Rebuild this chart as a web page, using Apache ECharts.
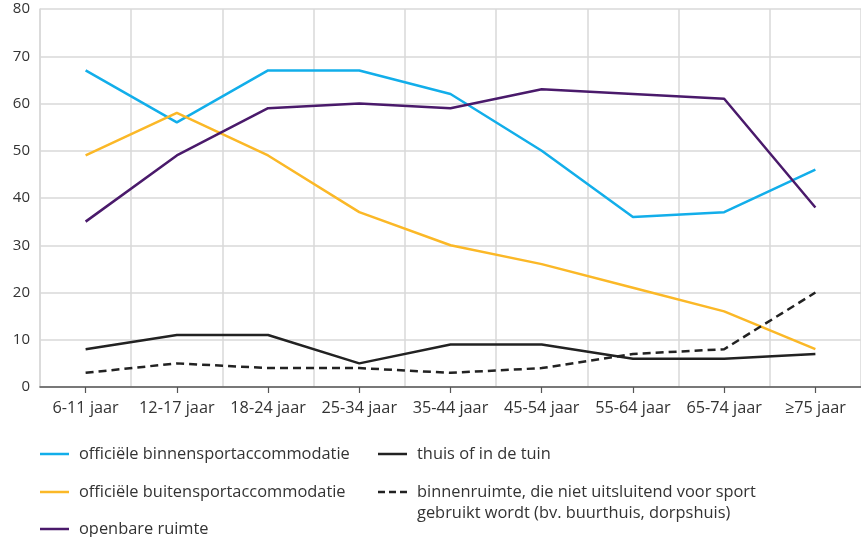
<!DOCTYPE html>
<html>
<head>
<meta charset="utf-8">
<script src="https://cdn.jsdelivr.net/npm/echarts@6/dist/echarts.min.js"></script>
<style>
  html, body { margin: 0; padding: 0; background: #fff; }
  #chart { width: 861px; height: 537px; }
</style>
</head>
<body>
<div id="chart"></div>
<script>
// Leeftijdsgroepen
const categories = ['6-11 jaar', '12-17 jaar', '18-24 jaar', '25-34 jaar', '35-44 jaar', '45-54 jaar', '55-64 jaar', '65-74 jaar', '≥75 jaar'];

// Percentages per locatie
const binnensport = [67, 56, 67, 67, 62, 50, 36, 37, 46];
const buitensport = [49, 58, 49, 37, 30, 26, 21, 16, 8];
const openbareRuimte = [35, 49, 59, 60, 59, 63, 62, 61, 38];
const thuisTuin = [8, 11, 11, 5, 9, 9, 6, 6, 7];
const binnenruimteOverig = [3, 5, 4, 4, 3, 4, 7, 8, 20];

const yTicks = { min: 0, max: 80, interval: 10 };

const names = {
  binnen: 'officiële binnensportaccommodatie',
  buiten: 'officiële buitensportaccommodatie',
  openbaar: 'openbare ruimte',
  thuis: 'thuis of in de tuin',
  overig: 'binnenruimte, die niet uitsluitend voor sport'
};

const FONT = '"Open Sans", sans-serif';
const TEXT = '#333333';
const LEGEND_FONT = 16.4;

// Legend glyphs: a plain stroke and a three-dash stroke
const ICON_SOLID = 'path://M0,0H29V2.5H0Z';
const ICON_DASHED = 'path://M0,0H7V2.5H0Z M11,0H18V2.5H11Z M22,0H29V2.5H22Z';

function lineSeries(name, data, color, type) {
  return {
    name: name,
    type: 'line',
    data: data,
    symbol: 'none',
    smooth: false,
    animation: false,
    lineStyle: { color: color, width: 2.5, type: type || 'solid' },
    itemStyle: { color: color }
  };
}

// One legend block per entry so each sits in its own row/column slot
function legendEntry(name, icon, left, top) {
  return {
    left: left,
    top: top,
    orient: 'horizontal',
    itemWidth: 29,
    itemHeight: 2.5,
    selectedMode: false,
    padding: 0,
    data: [{ name: name, icon: icon }],
    textStyle: { fontFamily: FONT, fontSize: LEGEND_FONT, color: TEXT, padding: [0, 0, 0, 5] }
  };
}

const chart = echarts.init(document.getElementById('chart'), null, { renderer: 'canvas' });
chart.setOption({
  backgroundColor: '#ffffff',
  animation: false,
  grid: { left: 40, top: 9, width: 831, height: 378, containLabel: false },
  xAxis: {
    type: 'category',
    data: categories,
    boundaryGap: true,
    axisLine: { show: true, lineStyle: { color: '#555555', width: 1.5 } },
    axisTick: { show: true, alignWithLabel: true, length: 6, lineStyle: { color: '#555555', width: 1.2 } },
    axisLabel: { fontFamily: FONT, fontSize: 16.3, color: TEXT, margin: 13, interval: 0 },
    splitLine: { show: true, lineStyle: { color: '#d9d9d9', width: 1.5 } }
  },
  yAxis: {
    type: 'value',
    min: yTicks.min,
    max: yTicks.max,
    interval: yTicks.interval,
    axisLine: { show: true, lineStyle: { color: '#d9d9d9', width: 1.5 } },
    axisTick: { show: false },
    axisLabel: { fontFamily: FONT, fontSize: 15, color: TEXT, margin: 10 },
    splitLine: { show: true, lineStyle: { color: '#d9d9d9', width: 1.5 } }
  },
  legend: [
    legendEntry(names.binnen, ICON_SOLID, 40, 446),
    legendEntry(names.buiten, ICON_SOLID, 40, 484),
    legendEntry(names.openbaar, ICON_SOLID, 40, 521),
    legendEntry(names.thuis, ICON_SOLID, 378, 446),
    legendEntry(names.overig, ICON_DASHED, 378, 484)
  ],
  graphic: [{
    type: 'text',
    left: 417,
    top: 505,
    style: { text: 'gebruikt wordt (bv. buurthuis, dorpshuis)', font: LEGEND_FONT + 'px ' + FONT, fill: TEXT }
  }],
  series: [
    lineSeries(names.binnen, binnensport, '#12aeea'),
    lineSeries(names.buiten, buitensport, '#fbb827'),
    lineSeries(names.openbaar, openbareRuimte, '#4a1a6b'),
    lineSeries(names.thuis, thuisTuin, '#222222'),
    lineSeries(names.overig, binnenruimteOverig, '#222222', [8, 5])
  ]
});
</script>
</body>
</html>
